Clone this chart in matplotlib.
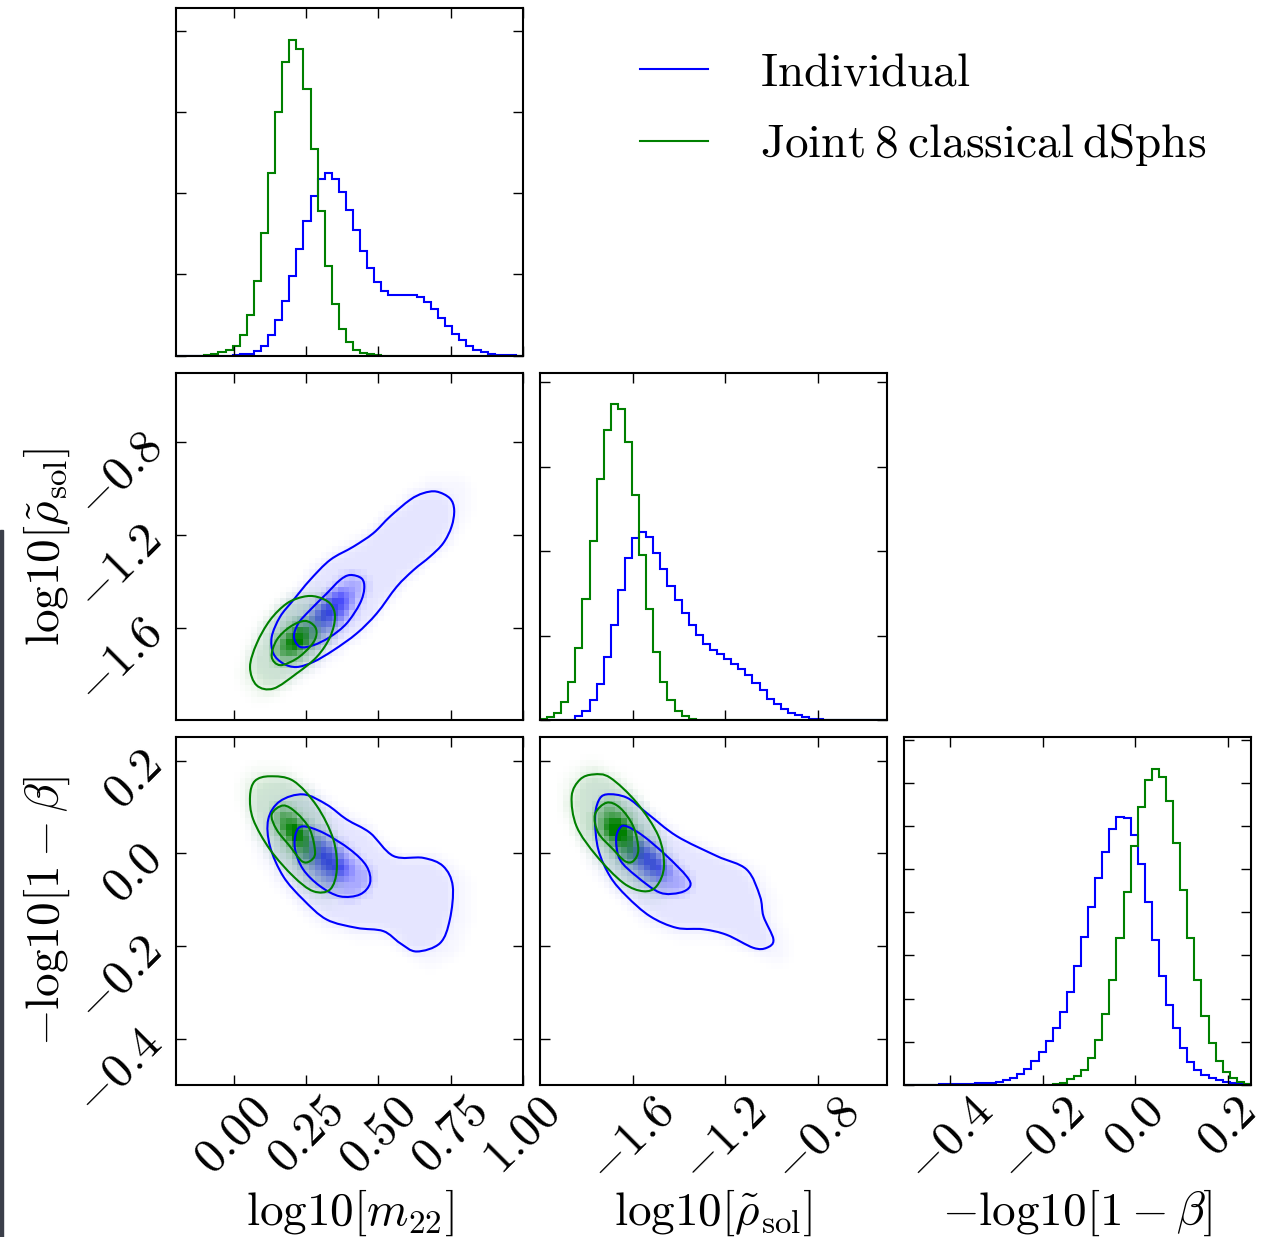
import numpy as np
import matplotlib
matplotlib.use("Agg")
import matplotlib.pyplot as plt
from matplotlib.path import Path
from matplotlib.patches import PathPatch, Rectangle
from matplotlib.lines import Line2D
from matplotlib.ticker import MultipleLocator
from matplotlib.colors import to_rgb

plt.rcParams['mathtext.fontset'] = 'cm'
plt.rcParams['font.family'] = ['cmr10', 'DejaVu Serif']
plt.rcParams['axes.formatter.use_mathtext'] = True

# ---- data ----
m22_range = (-0.2, 1.0)
rho_range = (-2.0, -0.5)
beta_range = (-0.5, 0.25)

m22_ticks = [0.0, 0.25, 0.5, 0.75, 1.0]
m22_ticklabels = ["$0.00$", "$0.25$", "$0.50$", "$0.75$", "$1.00$"]
rho_ticks = [-1.6, -1.2, -0.8]
rho_ticklabels = ["$-1.6$", "$-1.2$", "$-0.8$"]
beta_ticks = [-0.4, -0.2, 0.0, 0.2]
beta_ticklabels = ["$-0.4$", "$-0.2$", "$0.0$", "$0.2$"]

labels = [r"$\mathrm{log10}[m_{22}]$",
          r"$\mathrm{log10}[\tilde{\rho}_{\mathrm{sol}}]$",
          r"$-\mathrm{log10}[1-\beta]$"]
legend_labels = [r"$\mathrm{Individual}$", r"$\mathrm{Joint\:8\:classical\:dSphs}$"]

# 1d histograms, 49 bins over the axis range
m22_indiv = [0, 0, 0, 0, 0, 0, 0, 0, 0.004, 0.016, 0.025, 0.053, 0.115, 0.259, 0.436,
             0.671, 0.979, 1.309, 1.658, 1.967, 2.173, 2.247, 2.173, 2.016, 1.794, 1.547,
             1.288, 1.082, 0.905, 0.794, 0.741, 0.741, 0.745, 0.745, 0.724, 0.658, 0.576,
             0.465, 0.362, 0.272, 0.189, 0.115, 0.074, 0.041, 0.021, 0.008, 0.004, 0.002, 0.0]
m22_joint = [0, 0, 0, 0, 0.005, 0.021, 0.041, 0.074, 0.115, 0.259, 0.506, 0.918, 1.514,
             2.247, 3.004, 3.613, 3.893, 3.778, 3.284, 2.551, 1.782, 1.103, 0.642, 0.329,
             0.169, 0.074, 0.033, 0.016, 0.005] + [0] * 20
rho_indiv = [0, 0, 0, 0, 0.008, 0.047, 0.111, 0.237, 0.435, 0.751, 1.127, 1.542, 1.918,
             2.163, 2.230, 2.175, 1.985, 1.787, 1.590, 1.423, 1.265, 1.127, 1.008, 0.909,
             0.838, 0.783, 0.728, 0.672, 0.613, 0.542, 0.447, 0.356, 0.257, 0.198, 0.138,
             0.091, 0.059, 0.040, 0.020, 0.012] + [0.006] * 9
rho_joint = [0.016, 0.040, 0.087, 0.214, 0.455, 0.862, 1.431, 2.127, 2.855, 3.432, 3.741,
             3.685, 3.290, 2.665, 1.957, 1.321, 0.810, 0.455, 0.237, 0.111, 0.047, 0.020,
             0.008] + [0] * 26
beta_indiv = [0, 0, 0, 0, 0, 0.016, 0.023, 0.031, 0.031, 0.031, 0.039, 0.047, 0.054, 0.078,
              0.109, 0.171, 0.248, 0.364, 0.558, 0.775, 1.008, 1.310, 1.682, 2.163, 2.767,
              3.426, 4.124, 4.798, 5.403, 5.922, 6.202, 6.178, 5.791, 5.116, 4.240, 3.349,
              2.535, 1.853, 1.310, 0.868, 0.543, 0.341, 0.225, 0.155, 0.109, 0.078, 0.047,
              0.031, 0.016]
beta_joint = [0] * 19 + [0.004, 0.008, 0.031, 0.054, 0.132, 0.209, 0.341, 0.620, 1.039,
              1.643, 2.434, 3.411, 4.473, 5.535, 6.434, 7.054, 7.318, 7.124, 6.566, 5.612,
              4.512, 3.411, 2.434, 1.605, 0.984, 0.558, 0.310, 0.155, 0.078, 0.031]

# 2d credible contours (inner ~39%, outer ~86%), points along each closed curve
m22_rho_indiv_in = [(0.402, -1.373), (0.442, -1.388), (0.451, -1.431), (0.436, -1.496),
                    (0.390, -1.582), (0.333, -1.640), (0.275, -1.676), (0.229, -1.683),
                    (0.208, -1.640), (0.223, -1.582), (0.263, -1.525), (0.321, -1.453),
                    (0.367, -1.395)]
m22_rho_indiv_out = [(0.701, -1.013), (0.747, -1.042), (0.762, -1.092), (0.753, -1.164),
                     (0.724, -1.236), (0.678, -1.294), (0.621, -1.352), (0.563, -1.424),
                     (0.494, -1.539), (0.425, -1.625), (0.344, -1.698), (0.275, -1.748),
                     (0.217, -1.770), (0.171, -1.755), (0.137, -1.712), (0.131, -1.640),
                     (0.160, -1.553), (0.206, -1.481), (0.263, -1.395), (0.333, -1.308),
                     (0.413, -1.251), (0.482, -1.193), (0.540, -1.121), (0.609, -1.049),
                     (0.655, -1.020)]
m22_rho_joint_in = [(0.246, -1.571), (0.281, -1.597), (0.284, -1.640), (0.263, -1.683),
                    (0.217, -1.734), (0.160, -1.762), (0.131, -1.726), (0.148, -1.654),
                    (0.194, -1.597)]
m22_rho_joint_out = [(0.287, -1.467), (0.333, -1.496), (0.350, -1.553), (0.333, -1.640),
                     (0.287, -1.726), (0.217, -1.798), (0.137, -1.863), (0.079, -1.849),
                     (0.056, -1.770), (0.079, -1.669), (0.125, -1.568), (0.183, -1.496),
                     (0.240, -1.467)]

m22_beta_indiv_in = [(0.240, 0.058), (0.310, 0.044), (0.402, 0.008), (0.459, -0.028),
                     (0.471, -0.064), (0.436, -0.089), (0.367, -0.093), (0.298, -0.071),
                     (0.240, -0.035), (0.212, 0.008), (0.215, 0.044)]
m22_beta_indiv_out = [(0.159, 0.112), (0.240, 0.127), (0.321, 0.105), (0.390, 0.073),
                      (0.471, 0.044), (0.552, -0.006), (0.655, -0.010), (0.724, -0.028),
                      (0.757, -0.071), (0.747, -0.143), (0.713, -0.194), (0.632, -0.212),
                      (0.575, -0.194), (0.517, -0.168), (0.425, -0.161), (0.321, -0.143),
                      (0.240, -0.100), (0.171, -0.050), (0.125, 0.015), (0.119, 0.073)]
m22_beta_joint_in = [(0.171, 0.103), (0.217, 0.087), (0.263, 0.051), (0.281, 0.001),
                     (0.263, -0.017), (0.235, -0.017), (0.194, 0.015), (0.148, 0.051),
                     (0.131, 0.084)]
m22_beta_joint_out = [(0.125, 0.166), (0.206, 0.156), (0.287, 0.102), (0.344, 0.030),
                      (0.356, -0.035), (0.333, -0.078), (0.275, -0.082), (0.206, -0.050),
                      (0.125, 0.008), (0.067, 0.073), (0.056, 0.123), (0.073, 0.156)]

rho_beta_indiv_in = [(-1.625, 0.058), (-1.553, 0.037), (-1.452, -0.006), (-1.366, -0.050),
                     (-1.351, -0.071), (-1.395, -0.085), (-1.481, -0.085), (-1.582, -0.050),
                     (-1.654, -0.014), (-1.671, 0.030), (-1.654, 0.055)]
rho_beta_indiv_out = [(-1.712, 0.127), (-1.625, 0.120), (-1.539, 0.087), (-1.409, 0.037),
                      (-1.236, -0.006), (-1.107, -0.035), (-1.049, -0.093), (-1.034, -0.136),
                      (-0.991, -0.186), (-1.020, -0.204), (-1.078, -0.204), (-1.193, -0.176),
                      (-1.294, -0.164), (-1.409, -0.161), (-1.524, -0.136), (-1.625, -0.093),
                      (-1.697, -0.050), (-1.748, 0.008), (-1.762, 0.073), (-1.748, 0.112)]
rho_beta_joint_in = [(-1.712, 0.109), (-1.654, 0.098), (-1.597, 0.058), (-1.575, 0.008),
                     (-1.597, -0.017), (-1.633, -0.017), (-1.683, 0.008), (-1.748, 0.044),
                     (-1.762, 0.084)]
rho_beta_joint_out = [(-1.769, 0.170), (-1.697, 0.163), (-1.582, 0.109), (-1.488, 0.037),
                      (-1.464, -0.028), (-1.496, -0.071), (-1.553, -0.082), (-1.640, -0.064),
                      (-1.755, -0.006), (-1.842, 0.058), (-1.863, 0.123), (-1.827, 0.159)]

c_ind = "#0000ff"
c_joint = "#008000"


def closed_path(pts):
    # smooth closed curve through the points (catmull-rom as cubic beziers)
    p = np.asarray(pts, float)
    n = len(p)
    verts = [p[0]]
    codes = [Path.MOVETO]
    for i in range(n):
        a, b, c, d = p[i - 1], p[i], p[(i + 1) % n], p[(i + 2) % n]
        verts += [b + (c - a) / 6, c - (d - b) / 6, c]
        codes += [Path.CURVE4] * 3
    return Path(np.array(verts), codes)


def scaled(path, f):
    v = path.vertices
    c = v.mean(axis=0)
    return Path(c + f * (v - c), path.codes)


def shade(ax, inner, outer, color, xr, yr, strength):
    xe = np.linspace(xr[0], xr[1], 61)
    ye = np.linspace(yr[0], yr[1], 61)
    X, Y = np.meshgrid((xe[:-1] + xe[1:]) / 2, (ye[:-1] + ye[1:]) / 2)
    pts = np.column_stack([X.ravel(), Y.ravel()])
    v = (0.03 * scaled(outer, 1.2).contains_points(pts)
         + 0.07 * outer.contains_points(pts)
         + 0.22 * inner.contains_points(pts)
         + 0.40 * scaled(inner, 0.5).contains_points(pts))
    v = v.reshape(X.shape)
    vp = np.pad(v, 1, mode='edge')
    v = sum(vp[i:i + v.shape[0], j:j + v.shape[1]] for i in range(3) for j in range(3)) / 9
    rgba = np.zeros(v.shape + (4,))
    rgba[..., :3] = to_rgb(color)
    rgba[..., 3] = np.clip(v * strength, 0, 1)
    ax.imshow(rgba, extent=(xr[0], xr[1], yr[0], yr[1]), origin='lower',
              aspect='auto', interpolation='nearest', zorder=1)


def panel2d(ax, xr, yr, ind_in, ind_out, jt_in, jt_out):
    pi, po = closed_path(ind_in), closed_path(ind_out)
    gi, go = closed_path(jt_in), closed_path(jt_out)
    shade(ax, pi, po, c_ind, xr, yr, 1.05)
    shade(ax, gi, go, c_joint, xr, yr, 1.7)
    for p, c in [(po, c_ind), (pi, c_ind), (go, c_joint), (gi, c_joint)]:
        ax.add_patch(PathPatch(p, fill=False, ec=c, lw=1.5, zorder=3))
    ax.set_xlim(*xr)
    ax.set_ylim(*yr)


def panel1d(ax, xr, indiv, joint):
    edges = np.linspace(xr[0], xr[1], len(indiv) + 1)
    ax.stairs(indiv, edges, color=c_ind, lw=1.5)
    ax.stairs(joint, edges, color=c_joint, lw=1.5)
    ax.set_xlim(*xr)
    ax.set_ylim(0, 1.1 * max(max(indiv), max(joint)))
    ax.yaxis.set_major_locator(MultipleLocator(1))
    ax.set_yticklabels([])


fig, axes = plt.subplots(3, 3, figsize=(12.72, 12.37), dpi=100)
fig.subplots_adjust(left=176 / 1272, right=1251 / 1272, bottom=152 / 1237,
                    top=1229 / 1237, wspace=0.049, hspace=0.049)

ticks = [m22_ticks, rho_ticks, beta_ticks]
ticklabels = [m22_ticklabels, rho_ticklabels, beta_ticklabels]

panel1d(axes[0, 0], m22_range, m22_indiv, m22_joint)
panel1d(axes[1, 1], rho_range, rho_indiv, rho_joint)
panel1d(axes[2, 2], beta_range, beta_indiv, beta_joint)
panel2d(axes[1, 0], m22_range, rho_range, m22_rho_indiv_in, m22_rho_indiv_out,
        m22_rho_joint_in, m22_rho_joint_out)
panel2d(axes[2, 0], m22_range, beta_range, m22_beta_indiv_in, m22_beta_indiv_out,
        m22_beta_joint_in, m22_beta_joint_out)
panel2d(axes[2, 1], rho_range, beta_range, rho_beta_indiv_in, rho_beta_indiv_out,
        rho_beta_joint_in, rho_beta_joint_out)

for i in range(3):
    for j in range(3):
        ax = axes[i, j]
        if j > i:
            ax.set_visible(False)
            continue
        for s in ax.spines.values():
            s.set_linewidth(1.5)
        ax.tick_params(direction='in', top=True, right=True, length=7, width=1,
                       labelsize=35)
        ax.set_xticks(ticks[j])
        if i == 2:
            ax.set_xticklabels(ticklabels[j], rotation=45)
            ax.set_xlabel(labels[j], fontsize=34)
            ax.xaxis.set_label_coords(0.5, -0.295)
        else:
            ax.set_xticklabels([])
        if i != j:
            ax.set_yticks(ticks[i])
            if j == 0:
                ax.set_yticklabels(ticklabels[i], rotation=45)
                ax.set_ylabel(labels[i], fontsize=34)
                ax.yaxis.set_label_coords(-0.3, 0.5)
            else:
                ax.set_yticklabels([])

handles = [Line2D([], [], color=c_ind, lw=1.5), Line2D([], [], color=c_joint, lw=1.5)]
fig.legend(handles, legend_labels, loc='upper left', bbox_to_anchor=(640 / 1272, 1 - 52 / 1237),
           frameon=False, fontsize=34, handlelength=1.44, handletextpad=1.1,
           labelspacing=0.6, borderpad=0, borderaxespad=0)

fig.patches.append(Rectangle((0, 0), 3 / 1272, 707 / 1237, transform=fig.transFigure,
                             color='#3b3f4a', zorder=0))

fig.savefig("out.png", dpi=100)
